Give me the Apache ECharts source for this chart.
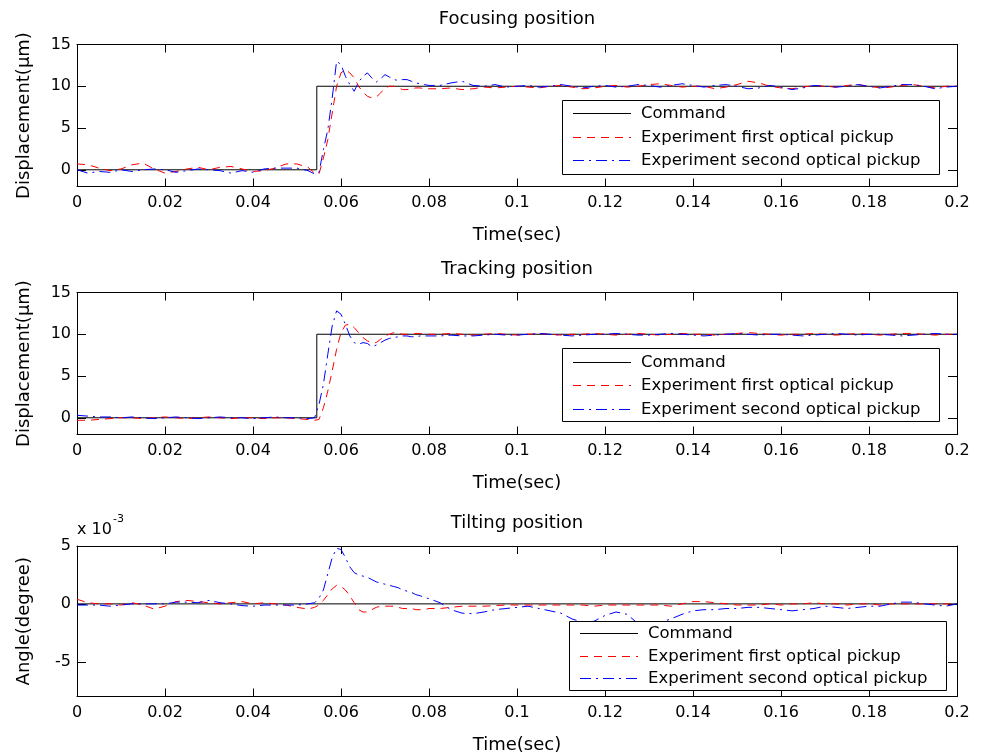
<!DOCTYPE html>
<html>
<head>
<meta charset="utf-8">
<title>Focusing / Tracking / Tilting position</title>
<script src="https://cdn.jsdelivr.net/npm/echarts@6/dist/echarts.min.js"></script>
<style>
  html, body { margin: 0; padding: 0; background: #fff; }
  #chart { width: 985px; height: 755px; }
</style>
</head>
<body>
<div id="chart"></div>
<script>
// sample times (sec), shared by every measured trace
const t = [
  0, 0.0025, 0.005, 0.0075, 0.01, 0.0125, 0.015, 0.0175, 0.02, 0.0225, 0.025, 0.0275,
  0.03, 0.0325, 0.035, 0.0375, 0.04, 0.0425, 0.045, 0.0475, 0.05, 0.0525, 0.054,
  0.055, 0.056, 0.057, 0.058, 0.059, 0.06, 0.061, 0.062, 0.063, 0.064, 0.065, 0.066, 0.067,
  0.068, 0.069, 0.07, 0.071, 0.072, 0.073, 0.074, 0.075, 0.076, 0.077, 0.078, 0.079, 0.08,
  0.0825, 0.085, 0.0875, 0.09, 0.0925, 0.095, 0.0975, 0.1, 0.1025, 0.105, 0.1075, 0.11,
  0.1125, 0.115, 0.1175, 0.12, 0.1225, 0.125, 0.1275, 0.13, 0.1325, 0.135, 0.1375, 0.14,
  0.1425, 0.145, 0.1475, 0.15, 0.1525, 0.155, 0.1575, 0.16, 0.1625, 0.165, 0.1675, 0.17,
  0.1725, 0.175, 0.1775, 0.18, 0.1825, 0.185, 0.1875, 0.19, 0.1925, 0.195, 0.1975, 0.2
]

// command (step input)
const cmdT = [0, 0.0545, 0.0545, 0.2]
const cmdStep = [0, 0, 10, 10]
const cmdZero = [0, 0, 0, 0]

// focusing displacement (um)
const focusFirst = [
  0.7, 0.6, 0.2, -0.1, 0.1, 0.6, 0.8, 0.1, -0.4, -0.2, 0.1, 0.3, 0.0, 0.3, 0.4, 0.1, -0.2, -0.1, 0.2, 0.7, 0.7, 0.3, -0.4,
  -0.5, 1.4, 3.6, 6.8, 10.0, 11.6, 12.0, 11.6, 11.0, 10.0, 9.3, 8.8, 8.6, 8.7, 9.2, 9.8, 10.0, 10.0, 9.8, 9.6, 9.6, 9.7, 9.8, 9.8, 9.7, 9.7,
  9.7, 9.8, 9.6, 9.7, 9.9, 9.8, 9.9, 10.0, 9.9, 9.8, 10.0, 10.1, 9.9, 9.7, 9.8, 10.0, 10.1, 9.9, 10.0, 10.2, 10.3, 10.1, 9.9, 10.0,
  10.0, 9.7, 9.9, 10.2, 10.6, 10.4, 10.0, 9.8, 9.7, 9.9, 10.1, 10.0, 9.9, 10.1, 10.2, 10.0, 9.8, 9.9, 10.1, 10.2, 10.0, 9.8, 10.0, 10.0
]
const focusSecond = [
  0.0, -0.4, -0.2, -0.3, 0.0, -0.2, 0.0, 0.1, 0.0, -0.3, -0.1, 0.1, 0.0, -0.1, -0.4, -0.1, -0.3, 0.1, 0.2, 0.2, 0.2, -0.1, -0.5,
  -0.3, 2.4, 4.8, 8.6, 13.0, 12.6, 11.2, 10.2, 9.4, 10.5, 11.2, 11.6, 11.0, 10.5, 10.9, 11.4, 11.1, 10.8, 10.7, 10.8, 10.8, 10.6, 10.4, 10.3, 10.2, 10.1,
  10.1, 10.4, 10.6, 10.1, 10.0, 10.2, 9.9, 10.0, 10.1, 9.9, 10.0, 10.2, 10.0, 9.8, 10.0, 10.1, 9.9, 10.0, 10.2, 10.1, 9.9, 10.1, 10.3, 10.1,
  9.9, 10.1, 10.2, 10.0, 9.7, 9.8, 10.1, 9.9, 9.6, 9.8, 10.1, 10.0, 9.9, 10.0, 10.2, 10.0, 9.8, 10.0, 10.2, 10.2, 10.0, 9.7, 9.9, 10.0
]

// tracking displacement (um)
const trackFirst = [
  -0.3, -0.3, -0.2, -0.1, 0.0, 0.0, -0.1, 0.0, 0.1, 0.0, -0.1, 0.0, 0.1, 0.0, -0.1, 0.0, 0.0, -0.1, 0.0, 0.0, -0.1, -0.2, -0.3,
  -0.2, 1.2, 3.2, 5.6, 8.2, 10.2, 11.1, 11.2, 10.8, 10.2, 9.6, 9.2, 9.0, 9.0, 9.4, 9.8, 10.0, 10.2, 10.1, 10.0, 10.0, 10.0, 10.1, 10.1, 10.0, 10.0,
  10.0, 10.1, 10.0, 9.9, 10.0, 10.1, 10.0, 9.9, 10.0, 10.1, 10.0, 9.9, 10.0, 10.0, 10.1, 10.0, 9.9, 10.0, 10.1, 10.0, 9.9, 10.0, 10.1, 10.0,
  10.0, 9.9, 10.0, 10.1, 10.2, 10.1, 10.0, 9.9, 10.0, 10.0, 10.1, 10.0, 9.9, 10.0, 10.1, 10.0, 9.9, 10.0, 10.1, 10.1, 10.0, 9.9, 10.0, 10.0
]
const trackSecond = [
  0.3, 0.2, 0.1, 0.1, 0.0, 0.1, 0.0, -0.1, 0.0, 0.1, 0.0, -0.1, 0.0, 0.1, 0.0, 0.0, -0.1, 0.0, 0.1, 0.0, 0.0, -0.1, 0.0,
  1.6, 4.0, 7.6, 11.0, 12.8, 12.4, 11.2, 9.8, 9.0, 8.8, 9.0, 8.9, 8.5, 8.7, 9.0, 9.3, 9.5, 9.6, 9.7, 9.8, 9.8, 9.7, 9.7, 9.8, 9.8, 9.8,
  9.8, 9.9, 9.8, 9.8, 9.9, 10.0, 9.9, 9.9, 10.0, 10.1, 10.0, 9.9, 9.8, 9.9, 10.0, 10.0, 10.1, 10.0, 9.9, 9.9, 10.0, 10.1, 10.0, 9.9,
  9.8, 9.9, 10.0, 10.1, 10.0, 9.9, 10.0, 10.0, 9.9, 9.8, 9.9, 10.0, 10.1, 10.0, 9.9, 10.0, 10.0, 9.9, 9.8, 9.9, 10.0, 10.1, 10.0, 10.0
]

// tilting angle, in units of 1e-3 degree
const tiltFirst = [
  0.4, 0.1, 0.0, 0.0, -0.1, 0.1, -0.1, -0.45, -0.2, 0.2, 0.3, 0.2, 0.1, 0.0, 0.1, 0.2, 0.0, 0.1, 0.0, -0.1, -0.3, -0.45, -0.3,
  -0.1, 0.3, 0.8, 1.3, 1.6, 1.5, 1.2, 0.7, 0.1, -0.5, -0.7, -0.7, -0.5, -0.3, -0.2, -0.2, -0.2, -0.2, -0.3, -0.4, -0.4, -0.4, -0.5, -0.5, -0.5, -0.4,
  -0.4, -0.3, -0.2, -0.2, -0.2, -0.15, -0.1, -0.1, -0.1, -0.1, -0.1, -0.1, -0.1, -0.1, -0.2, -0.1, -0.1, -0.1, -0.1, -0.1, -0.1, -0.2, 0.0, 0.2,
  0.2, 0.1, 0.0, -0.1, -0.1, -0.1, 0.0, -0.1, 0.0, 0.0, 0.1, 0.0, 0.0, -0.1, 0.0, 0.0, -0.1, 0.0, 0.0, 0.0, 0.0, 0.0, 0.0, 0.0
]
const tiltSecond = [
  -0.1, -0.1, -0.1, -0.2, -0.1, 0.0, 0.0, 0.0, 0.0, 0.15, 0.15, 0.1, 0.3, 0.1, 0.0, -0.15, -0.2, -0.1, -0.1, -0.1, -0.1, 0.0, 0.1,
  0.5, 1.2, 2.6, 4.0, 4.8, 4.7, 4.0, 3.2, 2.7, 2.5, 2.4, 2.3, 2.1, 1.9, 1.8, 1.7, 1.6, 1.5, 1.4, 1.2, 1.1, 1.0, 0.8, 0.7, 0.55, 0.45,
  0.1, -0.5, -0.8, -0.85, -0.7, -0.5, -0.4, -0.3, -0.2, -0.4, -0.6, -0.8, -1.3, -1.6, -1.5, -1.0, -0.7, -0.9, -1.7, -1.8, -1.6, -1.3, -0.9, -0.6,
  -0.5, -0.5, -0.4, -0.4, -0.3, -0.3, -0.4, -0.5, -0.6, -0.5, -0.4, -0.2, -0.3, -0.4, -0.3, -0.2, -0.2, 0.0, 0.15, 0.15, 0.0, -0.1, -0.2, 0.0
]

const xTicks = [0, 0.02, 0.04, 0.06, 0.08, 0.1, 0.12, 0.14, 0.16, 0.18, 0.2]
const dispTicks = [0, 5, 10, 15]
const tiltTicks = [-5, 0, 5]
const names = ['Command', 'Experiment first optical pickup', 'Experiment second optical pickup']

// line look for Command / first pickup / second pickup
const lineLooks = [
  { color: '#000', width: 1, type: 'solid' },
  { color: '#ff0000', width: 1, type: [8, 6] },
  { color: '#0000ff', width: 1, type: [11, 5, 2, 5] }
]

const font = 'DejaVu Sans'
const chart = echarts.init(document.getElementById('chart'), null, { renderer: 'canvas' })

const grids = [
  { left: 77, top: 44.5, width: 880, height: 142 },
  { left: 77, top: 292.5, width: 880, height: 142 },
  { left: 77, top: 546, width: 880, height: 150.5 }
]

// legend boxes (one per panel): box position/size, first row offset, row pitch
const legendBoxes = [
  { left: 562, top: 100, w: 377, h: 74, first: 13, pitch: 23.5 },
  { left: 562, top: 348, w: 377, h: 73, first: 13.5, pitch: 23.5 },
  { left: 569, top: 621, w: 377, h: 69, first: 12, pitch: 22.5 }
]
const swatchW = 58

function xAxisFor(i, mirror) {
  return {
    type: 'value', gridIndex: i, position: mirror ? 'top' : 'bottom',
    min: 0, max: 0.2,
    name: mirror ? '' : 'Time(sec)', nameLocation: 'middle', nameGap: 40,
    nameTextStyle: { fontFamily: font, fontSize: 18, color: '#000' },
    axisLine: { show: true, onZero: false, lineStyle: { color: '#000', width: 1 } },
    axisTick: { show: true, inside: true, length: 8, customValues: xTicks, lineStyle: { color: '#000' } },
    axisLabel: {
      show: !mirror, margin: 8, customValues: xTicks,
      fontFamily: font, fontSize: 16, color: '#000',
      formatter: v => String(+v.toFixed(2))
    },
    splitLine: { show: false }
  }
}

function yAxisFor(i, ticks, min, max, name, mirror) {
  return {
    type: 'value', gridIndex: i, position: mirror ? 'right' : 'left',
    min, max,
    name: mirror ? '' : name, nameLocation: 'middle', nameGap: 44,
    nameTextStyle: { fontFamily: font, fontSize: 18, color: '#000' },
    axisLine: { show: true, onZero: false, lineStyle: { color: '#000', width: 1 } },
    axisTick: { show: true, inside: true, length: 9, customValues: ticks, lineStyle: { color: '#000' } },
    axisLabel: { show: !mirror, margin: 6, customValues: ticks, fontFamily: font, fontSize: 16, color: '#000' },
    splitLine: { show: false }
  }
}

function pairs(xs, ys) {
  return xs.map((x, k) => [x, ys[k]])
}

function line(k, i, xs, ys) {
  const look = lineLooks[k]
  return {
    name: names[k], type: 'line', xAxisIndex: i * 2, yAxisIndex: i * 2,
    data: pairs(xs, ys),
    symbol: 'none', showSymbol: false, smooth: false, animation: false, silent: true,
    lineStyle: { color: look.color, width: look.width, type: look.type },
    itemStyle: { color: look.color },
    emphasis: { disabled: true }
  }
}

function panel(i, cmd, first, second) {
  return [line(0, i, cmdT, cmd), line(1, i, t, first), line(2, i, t, second)]
}

// MATLAB style legend box: frame, line sample and label for each series
function legendBox(b) {
  const els = [{
    type: 'rect', zlevel: 1, z: 10, silent: true,
    shape: { x: b.left + 0.5, y: b.top + 0.5, width: b.w, height: b.h },
    style: { fill: '#fff', stroke: '#000', lineWidth: 1 }
  }]
  names.forEach((name, k) => {
    const look = lineLooks[k]
    const y = Math.round(b.top + b.first + k * b.pitch) + 0.5
    els.push({
      type: 'line', zlevel: 1, z: 11, silent: true,
      shape: { x1: b.left + 11, y1: y, x2: b.left + 11 + swatchW, y2: y },
      style: { stroke: look.color, lineWidth: 1, lineDash: look.type === 'solid' ? null : look.type.slice() }
    })
    els.push({
      type: 'text', zlevel: 1, z: 11, silent: true, x: b.left + 79, y,
      style: { text: name, font: '16.5px "DejaVu Sans"', fill: '#000', verticalAlign: 'middle', align: 'left' }
    })
  })
  return els
}

function titleAt(text, top) {
  return { text, left: 517, top, textAlign: 'center', padding: 0,
    textStyle: { fontFamily: font, fontSize: 18, fontWeight: 'normal', color: '#000' } }
}

chart.setOption({
  backgroundColor: '#fff',
  animation: false,
  title: [
    titleAt('Focusing position', 10),
    titleAt('Tracking position', 260),
    titleAt('Tilting position', 514)
  ],
  grid: grids.map(g => Object.assign({ outerBoundsMode: 'none', containLabel: false }, g)),
  xAxis: [
    xAxisFor(0, false), xAxisFor(0, true),
    xAxisFor(1, false), xAxisFor(1, true),
    xAxisFor(2, false), xAxisFor(2, true)
  ],
  yAxis: [
    yAxisFor(0, dispTicks, -2, 15, 'Displacement(\u03bcm)', false), yAxisFor(0, dispTicks, -2, 15, '', true),
    yAxisFor(1, dispTicks, -2, 15, 'Displacement(\u03bcm)', false), yAxisFor(1, dispTicks, -2, 15, '', true),
    yAxisFor(2, tiltTicks, -8, 5, 'Angle(degree)', false), yAxisFor(2, tiltTicks, -8, 5, '', true)
  ],
  graphic: [
    { type: 'text', left: 77, top: 522, style: { text: 'x 10', font: '16px "DejaVu Sans"', fill: '#000' } },
    { type: 'text', left: 113, top: 514, style: { text: '-3', font: '11px "DejaVu Sans"', fill: '#000' } },
    ...legendBoxes.flatMap(legendBox)
  ],
  series: [
    ...panel(0, cmdStep, focusFirst, focusSecond),
    ...panel(1, cmdStep, trackFirst, trackSecond),
    ...panel(2, cmdZero, tiltFirst, tiltSecond)
  ]
})
</script>
</body>
</html>
